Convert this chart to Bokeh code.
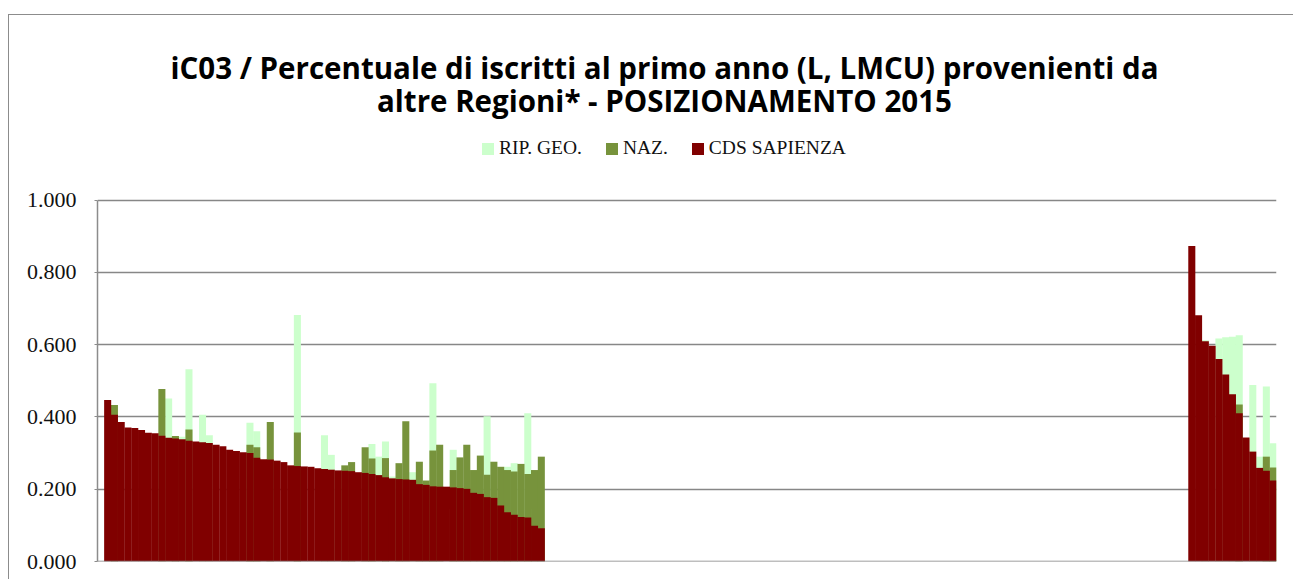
import numpy as np
from bokeh.plotting import figure
from bokeh.models import (ColumnDataSource, Range1d, FixedTicker, NumeralTickFormatter,
                          Legend, LegendItem, Label, Span)
from bokeh.embed import file_html
from bokeh.resources import INLINE

N = None

# ---------------- data ----------------
title_lines = ["iC03 / Percentuale di iscritti al primo anno (L, LMCU) provenienti da",
               "altre Regioni* - POSIZIONAMENTO 2015"]
series_names = ["RIP. GEO.", "NAZ.", "CDS SAPIENZA"]
series_colors = ["#CCFFCC", "#77933C", "#800000"]
y_ticks = [0.0, 0.2, 0.4, 0.6, 0.8, 1.0]

n_categories = 174      # number of category slots on the x axis
left_start = 1          # first slot of the left block of courses
right_start = 161       # first slot of the right block of courses

cds_left = [0.447, 0.406, 0.386, 0.371, 0.369, 0.364, 0.356, 0.355, 0.348, 0.342,
            0.340, 0.338, 0.334, 0.332, 0.330, 0.328, 0.323, 0.319, 0.309, 0.306,
            0.302, 0.300, 0.287, 0.283, 0.282, 0.279, 0.275, 0.266, 0.264, 0.263,
            0.262, 0.258, 0.256, 0.254, 0.252, 0.251, 0.250, 0.247, 0.245, 0.242,
            0.239, 0.233, 0.230, 0.228, 0.227, 0.226, 0.214, 0.212, 0.208, 0.207,
            0.207, 0.205, 0.203, 0.201, 0.190, 0.187, 0.178, 0.176, 0.155, 0.136,
            0.129, 0.123, 0.122, 0.099, 0.092]
naz_left = [N, 0.433, N, N, N, N, N, N, 0.477, N,
            0.347, N, 0.365, N, N, N, N, N, N, N,
            N, 0.323, 0.316, N, 0.386, N, N, N, 0.357, N,
            N, N, N, N, N, 0.266, 0.275, N, 0.316, 0.285,
            N, 0.286, N, 0.272, 0.388, N, 0.276, 0.224, 0.307, 0.323,
            N, 0.253, 0.288, 0.323, 0.253, 0.293, 0.240, 0.276, 0.262, 0.253,
            0.249, 0.270, 0.242, 0.253, 0.290]
rip_left = [N, N, N, N, N, N, N, N, N, 0.451,
            N, 0.345, 0.532, N, 0.406, 0.349, N, N, N, N,
            N, 0.384, 0.360, N, N, N, N, N, 0.682, N,
            N, N, 0.349, 0.295, N, N, N, N, N, 0.325,
            0.290, 0.332, 0.235, N, N, 0.247, N, N, 0.493, N,
            N, 0.309, N, N, N, N, 0.402, N, N, 0.262,
            0.272, N, 0.410, N, N]

cds_right = [0.873, 0.681, 0.609, 0.597, 0.560, 0.517, 0.463, 0.410, 0.343, 0.304,
             0.259, 0.251, 0.224]
naz_right = [N, N, N, N, N, N, N, 0.434, N, N, N, 0.290, 0.260]
rip_right = [N, N, 0.612, N, 0.617, 0.620, 0.622, 0.626, N, 0.488, 0.290, 0.484, 0.327]


def full_series(left, right):
    arr = [np.nan] * n_categories
    for i, v in enumerate(left):
        arr[left_start + i] = np.nan if v is None else v
    for i, v in enumerate(right):
        arr[right_start + i] = np.nan if v is None else v
    return arr


src = ColumnDataSource(dict(
    x=[i + 0.5 for i in range(n_categories)],
    rip=full_series(rip_left, rip_right),
    naz=full_series(naz_left, naz_right),
    cds=full_series(cds_left, cds_right),
))

# ---------------- figure ----------------
# frame reaches the top of the chart so the title and legend can be drawn inside it;
# the value axis itself only spans 0 .. 1
p = figure(width=1285, height=565, output_backend="svg", toolbar_location=None,
           x_range=Range1d(0, n_categories), y_range=Range1d(0, 1.5104),
           min_border_left=88, min_border_right=18, min_border_top=0, min_border_bottom=19)
p.styles = {"border-left": "1px solid #8c8c8c", "border-top": "1px solid #8c8c8c",
            "margin-top": "14px", "margin-left": "8px"}
p.background_fill_color = "white"
p.border_fill_color = "white"
p.outline_line_color = None

renderers = []
for key, col in zip(["rip", "naz", "cds"], series_colors):
    r = p.vbar(x="x", top=key, bottom=0, width=1.04, source=src,
               fill_color=col, line_color=None)
    renderers.append(r)

p.xaxis.visible = False
p.xgrid.visible = False
p.add_layout(Span(location=0, dimension="width", line_color="#7f7f7f", line_width=1.5))

p.yaxis.ticker = FixedTicker(ticks=y_ticks)
p.yaxis.bounds = (0, 1.0)
p.yaxis.formatter = NumeralTickFormatter(format="0.000")
p.yaxis.axis_line_color = "#8c8c8c"
p.yaxis.axis_line_width = 1.5
p.yaxis.major_tick_line_color = "#8c8c8c"
p.yaxis.major_tick_out = 3
p.yaxis.major_tick_in = 0
p.yaxis.minor_tick_line_color = None
p.yaxis.major_label_standoff = 18
p.yaxis.major_label_text_font = "Liberation Serif"
p.yaxis.major_label_text_font_size = "22px"
p.yaxis.major_label_text_color = "#111111"
p.ygrid.grid_line_color = "#878787"
p.ygrid.grid_line_width = 1.5

# title (two centered lines)
for txt, yb in zip(title_lines, [494, 461]):
    p.add_layout(Label(x=567, y=yb, x_units="screen", y_units="screen", text=txt,
                       text_align="center", text_baseline="alphabetic",
                       text_font="Open Sans", text_font_size="29.5px", text_font_style="bold",
                       text_color="#000000"))

legend = Legend(items=[LegendItem(label=n, renderers=[r]) for n, r in zip(series_names, renderers)],
                orientation="horizontal", location=(383, 402), padding=0, margin=0,
                spacing=22, glyph_width=15, glyph_height=15, label_standoff=4,
                label_text_font="Liberation Serif", label_text_font_size="19.5px",
                label_text_color="#111111",
                border_line_color=None, background_fill_alpha=0)
p.add_layout(legend)

open("out.html", "w").write(file_html(p, INLINE))
